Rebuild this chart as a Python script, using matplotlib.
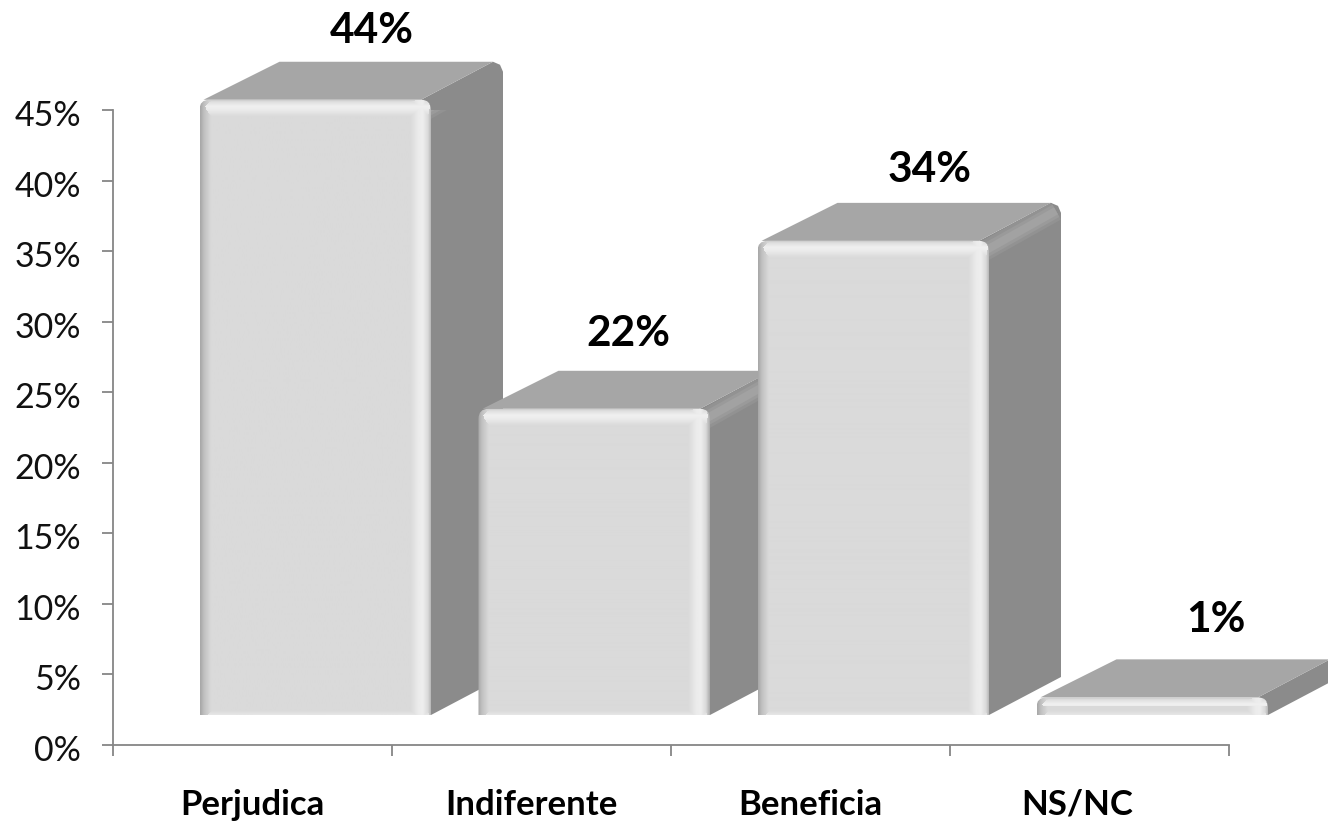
import numpy as np
import matplotlib

matplotlib.use("Agg")
import matplotlib.pyplot as plt
from matplotlib.patches import PathPatch, Polygon
from matplotlib.path import Path
from matplotlib.transforms import ScaledTranslation

plt.rcParams["font.family"] = ["Lato", "DejaVu Sans"]

categories = ["Perjudica", "Indiferente", "Beneficia", "NS/NC"]
values = [43.6, 21.7, 33.6, 1.25]
y_ticks = [0, 5, 10, 15, 20, 25, 30, 35, 40, 45]

# per-label nudges in px, the source chart placed its labels by hand
label_nudge = [(57, 69), (34, 75), (56, 71), (64, 77)]
cat_nudge = [0, 0, 0, -12]

W, H = 1328, 822
AX_L, AX_R, AX_T, AX_B = 113, 1229, 110, 745
PX = 4 / (AX_R - AX_L)
PY = 45 / (AX_B - AX_T)

FLOOR = 30 * PY        # front face sits above the axis, it is a 3D chart
BAR_W = 231.5 * PX
GAP = 86.5 * PX
DX, DY = 72 * PX, 38 * PY
R_X, R_Y = 10 * PX, 10 * PY
AXIS_COL = "#868686"

fig = plt.figure(figsize=(W / 100, H / 100), dpi=100)
ax = fig.add_axes([AX_L / W, 1 - AX_B / H, (AX_R - AX_L) / W, (AX_B - AX_T) / H])


def bevel(w, h):
    # grey levels of the front face: soft dark left edge, bright top and right ridges
    xs = np.arange(w) + 0.5
    ys = np.arange(h) + 0.5
    base = 218.0
    left = np.interp(xs, [0, 4, 11], [165, 192, base])
    right = np.interp(w - xs, [0, 4, 9, 14, 21], [170, 218, 238, 234, base])
    top = np.interp(ys, [0, 3, 7, 11, 17], [195, 224, 240, 234, base])
    bottom = np.interp(h - ys, [0, 4], [230, base])
    horiz = np.where(xs < w / 2, left, right)
    vert = np.where(ys < h / 2, top, bottom)
    gx, gy = np.meshgrid(horiz, vert)
    out = np.where(np.abs(gx - base) > np.abs(gy - base), gx, gy)
    return out / 255


def front_path(x0, x1, y0, y1):
    return Path(
        [(x0, y0), (x0, y1 - R_Y), (x0, y1), (x0 + R_X, y1), (x1 - R_X, y1),
         (x1, y1), (x1, y1 - R_Y), (x1, y0), (x0, y0)],
        [Path.MOVETO, Path.LINETO, Path.CURVE3, Path.CURVE3, Path.LINETO,
         Path.CURVE3, Path.CURVE3, Path.LINETO, Path.CLOSEPOLY],
    )


xpos = [i + GAP + BAR_W / 2 for i in range(len(values))]
bars = ax.bar(xpos, values, width=BAR_W, bottom=FLOOR, color="#dadada", clip_on=False)

for i, (rect, v) in enumerate(zip(bars, values)):
    z = 3 + i
    x0, x1 = rect.get_x(), rect.get_x() + rect.get_width()
    y0, y1 = rect.get_y(), rect.get_y() + rect.get_height()
    rect.set_visible(False)

    # side face, with the lighter rounded ridge along its upper edge
    side = Polygon([(x1, y0), (x1 + DX, y0 + DY), (x1 + DX, y1 + DY - R_Y),
                    (x1 + DX - 3 * PX, y1 + DY - 3 * PY), (x1 + DX - R_X, y1 + DY), (x1 - R_X, y1)],
                   closed=True, fc="#8b8b8b", ec="none", clip_on=False, zorder=z)
    ax.add_patch(side)
    for lw, col in [(20, "#929292"), (14, "#9a9a9a"), (8, "#a2a2a2")]:
        ln, = ax.plot([x1 - 10 * PX, x1 + DX - 5 * PX],
                      [y1 - 8 * PY - 10 * PX / DX * DY, y1 + DY - 8 * PY],
                      color=col, lw=lw * 0.72, solid_capstyle="butt", zorder=z)
        ln.set_clip_path(side)

    # top face
    ax.add_patch(Polygon([(x0 + 4 * PX, y1), (x0 + 80 * PX, y1 + DY),
                          (x1 + DX - R_X, y1 + DY), (x1 - R_X, y1)],
                         closed=True, fc="#a6a6a6", ec="none", clip_on=False, zorder=z))

    # front face, drawn as a bevel image clipped to a round-topped outline
    w_px, h_px = int(round((x1 - x0) / PX)), int(round((y1 - y0) / PY))
    outline = PathPatch(front_path(x0, x1, y0, y1), transform=ax.transData, fc="none", ec="none")
    im = ax.imshow(bevel(w_px, h_px), extent=(x0, x1, y0, y1), cmap="gray", vmin=0, vmax=1,
                   aspect="auto", interpolation="bilinear", zorder=z + 0.5)
    im.set_clip_box(fig.bbox)
    im.set_clip_path(outline)

    dx, dy = label_nudge[i]
    ax.annotate(f"{round(v)}%", ((x0 + x1) / 2, y1), xytext=(dx * 0.72, dy * 0.72),
                textcoords="offset points", ha="center", va="center", fontsize=30.5,
                fontweight="bold", color="black", annotation_clip=False, zorder=20)

ax.set_xlim(0, 4)
ax.set_ylim(0, 45)
ax.set_yticks(y_ticks)
ax.set_yticklabels([f"{t}%" for t in y_ticks], fontsize=24.5, color="#111111")
ax.set_xticks(range(5))
ax.set_xticklabels([])
ax.tick_params(axis="both", length=8, width=1.3, color=AXIS_COL)
ax.tick_params(axis="y", pad=15)
shift = ScaledTranslation(0, -3 / 100, fig.dpi_scale_trans)   # labels sit a little under their ticks
for lab in ax.get_yticklabels():
    lab.set_transform(lab.get_transform() + shift)
for s in ["top", "right"]:
    ax.spines[s].set_visible(False)
for s in ["left", "bottom"]:
    ax.spines[s].set_color(AXIS_COL)
    ax.spines[s].set_linewidth(1.3)

for i, name in enumerate(categories):
    ax.annotate(name, (i + 0.5, 0), xytext=(cat_nudge[i] * 0.72, -43),
                textcoords="offset points", ha="center", va="center",
                fontsize=25, fontweight="bold", color="black", annotation_clip=False)

fig.savefig("out.png", dpi=100, facecolor="white")
